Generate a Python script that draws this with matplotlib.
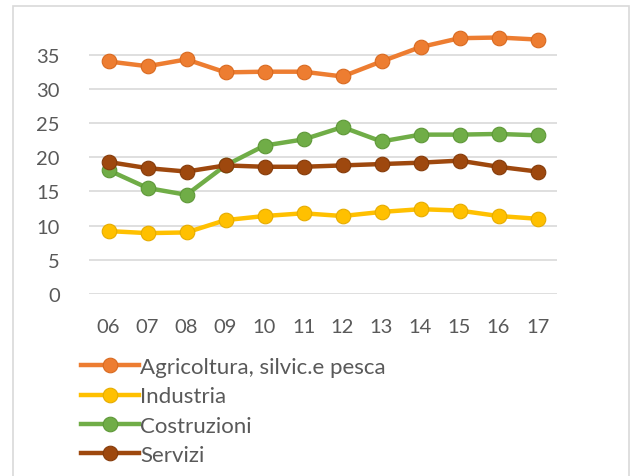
import matplotlib.pyplot as plt
from matplotlib.patches import Rectangle

plt.rcParams['font.family'] = ['Lato', 'DejaVu Sans']

# data
anni = ["06", "07", "08", "09", "10", "11", "12", "13", "14", "15", "16", "17"]
agricoltura = [34.0, 33.3, 34.3, 32.4, 32.5, 32.5, 31.8, 34.0, 36.1, 37.4, 37.5, 37.2]
industria = [9.2, 8.9, 9.0, 10.8, 11.4, 11.8, 11.4, 12.0, 12.4, 12.2, 11.4, 11.0]
costruzioni = [18.1, 15.5, 14.5, 18.8, 21.7, 22.6, 24.4, 22.3, 23.3, 23.3, 23.4, 23.2]
servizi = [19.3, 18.4, 17.9, 18.8, 18.6, 18.6, 18.8, 19.0, 19.2, 19.5, 18.6, 17.9]

serie = [
    ("Agricoltura, silvic.e pesca", agricoltura, "#ED7D31", "#D96A20"),
    ("Industria", industria, "#FFC000", "#E6AC00"),
    ("Costruzioni", costruzioni, "#70AD47", "#5E9838"),
    ("Servizi", servizi, "#9E480E", "#853B0A"),
]

fig = plt.figure(figsize=(6.32, 4.77), dpi=100)
ax = fig.add_axes([89 / 632, 1 - 295 / 477, 468 / 632, 273.6 / 477])

# light frame around the chart area (runs off the bottom)
fig.patches.append(Rectangle((13 / 632, -0.05), 616 / 632, 1.05 - 7 / 477,
                             transform=fig.transFigure, fill=False,
                             edgecolor="#D9D9D9", linewidth=1.2))

x = list(range(len(anni)))
for nome, vals, col, bordo in serie:
    ax.plot(x, vals, color=col, linewidth=3.2, marker="o", markersize=10.5,
            markerfacecolor=col, markeredgecolor=bordo, markeredgewidth=0.8,
            label=nome, zorder=3)

ax.set_xlim(-0.5, 11.5)
ax.set_ylim(0, 40)
ax.set_yticks(range(0, 40, 5))
ax.set_xticks(x)
ax.set_xticklabels(anni)
ax.grid(axis="y", color="#D9D9D9", linewidth=1.2)
ax.set_axisbelow(True)
for s in ax.spines.values():
    s.set_visible(False)
ax.tick_params(length=0, labelsize=14.5, labelcolor="#595959")
ax.tick_params(axis="y", pad=21)
ax.tick_params(axis="x", pad=17)

fig.legend(loc="upper left", bbox_to_anchor=(81 / 632, 1 - 358 / 477),
           frameon=False, fontsize=16, labelcolor="#595959",
           handlelength=2.6, handletextpad=0.05, labelspacing=0.42,
           borderpad=0, borderaxespad=0)

fig.savefig("out.png", dpi=100)
